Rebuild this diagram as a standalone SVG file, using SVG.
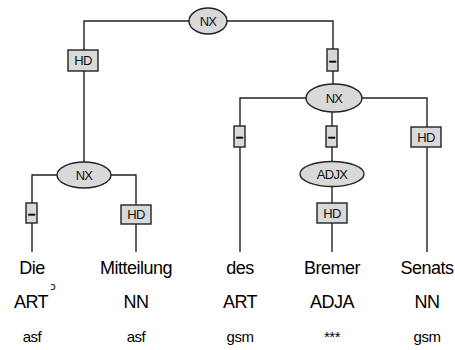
<svg xmlns="http://www.w3.org/2000/svg" width="455" height="350" viewBox="0 0 455 350">
<style>
.n{fill:#d9d9d9;stroke:#222;stroke-width:1.4}
.e{fill:none;stroke:#222;stroke-width:1.4}
.l{font-family:"Liberation Sans",Arial,sans-serif;font-size:13px;text-anchor:middle;fill:#111;letter-spacing:-0.7px}
.d{font-family:"Liberation Sans",Arial,sans-serif;font-size:13px;font-weight:bold;text-anchor:middle;fill:#000;stroke:#000;stroke-width:0.6}
.w{font-family:"Liberation Sans",Arial,sans-serif;font-size:18px;text-anchor:middle;fill:#000;letter-spacing:-0.5px}
.s{font-family:"Liberation Sans",Arial,sans-serif;font-size:15px;text-anchor:middle;fill:#000;letter-spacing:-0.5px}
</style>
<g id="connectors">
<path class="e" d="M84,162 V21 H333 V98"/>
<path class="e" d="M32,252 V175 H136 V252"/>
<path class="e" d="M240,252 V98 H427 V252"/>
<path class="e" d="M332,98 V252"/>
</g>
<g id="nx-root"><ellipse class="n" cx="208" cy="21" rx="19" ry="13"/><text class="l" x="208" y="25.5">NX</text></g>
<g id="hd-1"><rect class="n" x="68" y="50" width="30" height="21"/><text class="l" x="83" y="65">HD</text></g>
<g id="dash-1"><rect class="n" x="327" y="49" width="11" height="22"/><text class="d" x="332.5" y="64.5">–</text></g>
<g id="nx-left"><ellipse class="n" cx="84" cy="175" rx="27" ry="13"/><text class="l" x="84" y="179.5">NX</text></g>
<g id="dash-2"><rect class="n" x="26" y="203" width="11" height="20"/><text class="d" x="31.5" y="217.5">–</text></g>
<g id="hd-2"><rect class="n" x="121" y="205" width="30" height="19"/><text class="l" x="136" y="219">HD</text></g>
<g id="nx-right"><ellipse class="n" cx="334" cy="98" rx="28" ry="14"/><text class="l" x="334" y="102.5">NX</text></g>
<g id="dash-3"><rect class="n" x="234" y="126" width="11" height="21"/><text class="d" x="239.5" y="141">–</text></g>
<g id="dash-4"><rect class="n" x="326" y="126" width="11" height="21"/><text class="d" x="331.5" y="141">–</text></g>
<g id="hd-3"><rect class="n" x="411" y="127" width="30" height="20"/><text class="l" x="426" y="141.5">HD</text></g>
<g id="adjx"><ellipse class="n" cx="332" cy="174" rx="32" ry="12.5"/><text class="l" x="332" y="178.5">ADJX</text></g>
<g id="hd-4"><rect class="n" x="317" y="203" width="30" height="20"/><text class="l" x="332" y="217.5">HD</text></g>
<g id="w1"><text class="w" x="32" y="274">Die</text><text class="w" x="31" y="308">ART</text><text class="s" x="32" y="342">asf</text><text x="53" y="290" style="font-family:'DejaVu Sans',sans-serif;font-size:10px;text-anchor:middle">ɔ</text></g>
<g id="w2"><text class="w" x="136" y="274">Mitteilung</text><text class="w" x="136" y="308">NN</text><text class="s" x="136" y="342">asf</text></g>
<g id="w3"><text class="w" x="240" y="274">des</text><text class="w" x="240" y="308">ART</text><text class="s" x="240" y="342">gsm</text></g>
<g id="w4"><text class="w" x="332" y="274">Bremer</text><text class="w" x="332" y="308">ADJA</text><text class="s" x="332" y="342">***</text></g>
<g id="w5"><text class="w" x="427" y="274">Senats</text><text class="w" x="427" y="308">NN</text><text class="s" x="427" y="342">gsm</text></g>
</svg>
